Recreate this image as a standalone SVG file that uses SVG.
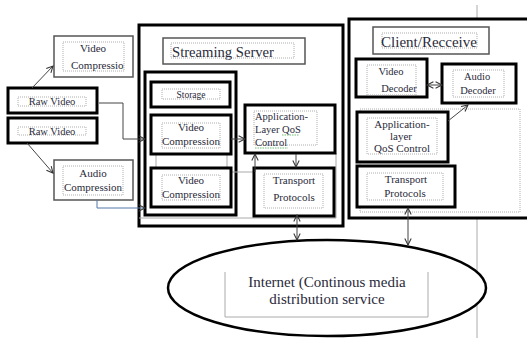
<svg xmlns="http://www.w3.org/2000/svg" width="527" height="338" viewBox="0 0 527 338" font-family="'Liberation Serif', 'DejaVu Serif', serif">
<style>
.thick{fill:#fff;stroke:#000;stroke-width:3}
.thin{fill:#fff;stroke:#555;stroke-width:1.5}
.dot{fill:none;stroke:#999;stroke-width:0.8;stroke-dasharray:1,1}
.gl{fill:none;stroke:#aaa;stroke-width:1}
text{font-family:'Liberation Serif','DejaVu Serif',serif}
.t{fill:#2a2a3a;text-anchor:middle}
.s10{font-size:10.5px}
.s11{font-size:11px}
.s14{font-size:14.5px}
.c{fill:none;stroke:#444;stroke-width:1}
.sq{fill:none;stroke:#4caf50;stroke-width:0.8;stroke-dasharray:1.5,1}
</style>
<defs>
<marker id="ah" viewBox="0 0 10 10" refX="9" refY="5" markerWidth="8" markerHeight="8" orient="auto-start-reverse" markerUnits="userSpaceOnUse">
<path d="M1,1 L9,5 L1,9" fill="none" stroke="#333" stroke-width="1.3"/>
</marker>
<clipPath id="clipvc"><rect x="60" y="40" width="64" height="34"/></clipPath>
</defs>
<rect width="527" height="338" fill="#fff"/>
<line class="gl" x1="477" y1="5" x2="477" y2="19"/>
<line class="gl" x1="477" y1="219" x2="477" y2="338"/>

<g id="streaming-server">
<rect class="thick" x="139" y="25" width="204" height="201"/>
<polyline class="gl" points="139,218 336,218 336,153"/>
<g id="server-title">
<rect class="thin" x="163" y="38" width="142" height="26"/>
<rect class="dot" x="171" y="43" width="123" height="15"/>
<text class="t" style="font-size:15.5px;text-anchor:start" x="172" y="56.5" textLength="102" lengthAdjust="spacingAndGlyphs">Streaming Server</text>
</g>
<rect class="thick" x="145" y="72" width="91" height="143"/>
<line class="gl" x1="156" y1="154" x2="156" y2="168"/>
<line class="gl" x1="227" y1="154" x2="227" y2="168"/>
<line class="gl" x1="231" y1="172" x2="254" y2="172"/>
</g>

<g id="storage">
<rect class="thick" x="151" y="82" width="79" height="25"/>
<rect class="dot" x="162" y="89" width="58" height="10"/>
<text class="t" style="font-size:9.5px" x="191" y="97.5">Storage</text>
</g>
<g id="server-video-compression-1">
<rect class="thick" x="151" y="115" width="80" height="39"/>
<rect class="dot" x="162" y="123" width="58" height="25"/>
<text class="t s11" x="191" y="131">Video</text>
<text class="t s11" x="191" y="145">Compression</text>
</g>
<g id="server-video-compression-2">
<rect class="thick" x="151" y="168" width="80" height="39"/>
<rect class="dot" x="162" y="175" width="58" height="25"/>
<text class="t s11" x="191" y="184">Video</text>
<text class="t s11" x="191" y="198">Compression</text>
</g>
<g id="server-app-qos">
<rect class="thick" x="245" y="105" width="90" height="48"/>
<rect class="dot" x="254" y="111" width="63" height="34"/>
<text class="t" style="font-size:10.5px;text-anchor:start" x="255" y="120">Application-</text>
<text class="t" style="font-size:10.5px;text-anchor:start" x="255" y="133">Layer QoS</text>
<text class="t" style="font-size:10.5px;text-anchor:start" x="255" y="146">Control</text>
<path class="sq" d="M282,135 H299 M255,148 H288"/>
</g>
<g id="server-transport">
<rect class="thick" x="254" y="168" width="80" height="48"/>
<rect class="dot" x="264" y="174" width="59" height="34"/>
<text class="t s11" x="294" y="184">Transport</text>
<text class="t s11" x="294" y="201">Protocols</text>
</g>

<g id="video-compression-top">
<rect class="thin" x="54" y="36" width="79" height="41"/>
<rect class="dot" x="63" y="42" width="61" height="29"/>
<text class="t s11" x="93" y="52">Video</text>
<text class="t s11" clip-path="url(#clipvc)" style="text-anchor:start" x="71" y="69">Compression</text>
</g>
<g id="raw-video-1">
<rect class="thick" x="8" y="88" width="89" height="25"/>
<rect class="dot" x="18" y="97" width="68" height="9"/>
<text class="t s10" x="52" y="105">Raw Video</text>
</g>
<g id="raw-video-2">
<rect class="thick" x="8" y="118" width="89" height="25"/>
<rect class="dot" x="18" y="127" width="68" height="8"/>
<text class="t s10" x="52" y="134.5">Raw Video</text>
</g>
<g id="audio-compression">
<rect class="thin" x="54" y="160" width="79" height="40"/>
<rect class="dot" x="63" y="166" width="60" height="29"/>
<text class="t s11" x="93" y="177">Audio</text>
<text class="t s11" x="93" y="191">Compression</text>
</g>

<g id="client">
<rect class="thick" x="349" y="19" width="190" height="199"/>
<path class="dot" d="M360,109 H520 V212 H360 Z"/>
<g id="client-title">
<rect class="thin" x="373" y="27" width="116" height="27"/>
<rect class="dot" x="382" y="33" width="95" height="15"/>
<text class="t" style="font-size:15px" x="429" y="46.5">Client/Recceive</text>
</g>
</g>
<g id="video-decoder">
<rect class="thick" x="356" y="59" width="71" height="38"/>
<rect class="dot" x="367" y="65" width="49" height="30"/>
<text class="t s10" x="391" y="75">Video</text>
<text class="t s10" x="399" y="92">Decoder</text>
</g>
<g id="audio-decoder">
<rect class="thick" x="442" y="64" width="74" height="39"/>
<rect class="dot" x="453" y="70" width="51" height="27"/>
<text class="t s10" x="477" y="80">Audio</text>
<text class="t s10" x="478" y="94">Decoder</text>
</g>
<g id="client-app-qos">
<rect class="thick" x="357" y="112" width="91" height="50"/>
<rect class="dot" x="367" y="118" width="70" height="36"/>
<text class="t s11" x="402" y="128">Application-</text>
<text class="t s11" x="401" y="140">layer</text>
<text class="t s11" x="402" y="152">QoS Control</text>
</g>
<g id="client-transport">
<rect class="thick" x="357" y="166" width="98" height="41"/>
<rect class="dot" x="367" y="173" width="76" height="27"/>
<text class="t s11" x="406" y="183">Transport</text>
<text class="t s11" x="405" y="197">Protocols</text>
</g>

<g id="internet">
<ellipse cx="327" cy="288" rx="159" ry="48" fill="#fff" stroke="#000" stroke-width="2.5"/>
<polyline class="gl" points="225,272 225,317 428,317 428,272"/>
<text class="t" style="font-size:15px" x="327" y="287">Internet (Continous media</text>
<text class="t" style="font-size:15px" x="327" y="304">distribution service</text>
</g>

<g id="connectors">
<line class="c" x1="32" y1="88" x2="53" y2="66" marker-end="url(#ah)"/>
<line class="c" x1="27" y1="143" x2="53" y2="173" marker-end="url(#ah)"/>
<polyline class="c" points="99,103 123,103 123,139 145,139" marker-end="url(#ah)"/>
<polyline class="c" style="stroke:#5577aa" points="97,200 97,208 145,208" marker-end="url(#ah)"/>
<line class="c" x1="231" y1="139" x2="245" y2="139" marker-end="url(#ah)"/>
<line class="c" x1="255" y1="172" x2="255" y2="154" marker-end="url(#ah)"/>
<line class="c" x1="296" y1="154" x2="296" y2="167" marker-end="url(#ah)"/>
<line class="c" x1="297" y1="215" x2="297" y2="240" marker-start="url(#ah)" marker-end="url(#ah)"/>
<line class="c" x1="408" y1="208" x2="408" y2="245" marker-start="url(#ah)" marker-end="url(#ah)"/>
<line class="c" x1="427" y1="85" x2="442" y2="85" marker-start="url(#ah)" marker-end="url(#ah)"/>
<line class="c" x1="448" y1="121" x2="468" y2="105" marker-end="url(#ah)"/>
</g>
</svg>
